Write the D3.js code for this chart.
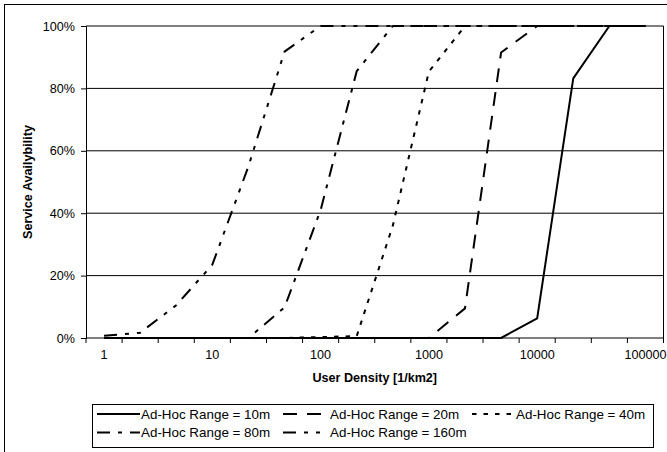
<!DOCTYPE html>
<html><head><meta charset="utf-8">
<script src="https://cdn.jsdelivr.net/npm/d3@7"></script>
<style>
body{margin:0;background:#fff;}
svg{display:block;font-family:"Liberation Sans",Arial,sans-serif;}
</style></head>
<body><svg id="chart" width="667" height="452"></svg>
<script>
// ---- data ----
const categories = [1,2,5,10,20,50,100,200,500,1000,2000,5000,10000,20000,50000,100000];
const tickLabels = ["1","10","100","1000","10000","100000"];
const seriesNames = ["Ad-Hoc Range = 10m","Ad-Hoc Range = 20m","Ad-Hoc Range = 40m","Ad-Hoc Range = 80m","Ad-Hoc Range = 160m"];
const range10m  = [0,0,0,0,0,0,0,0,0,0,0,0,6.3,83.2,100,100];
const range20m  = [0,0,0,0,0,0,0,0,0,0,9.5,91.5,100,100,100,100];
const range40m  = [0,0,0,0,0,0,0.3,0.6,36,85.4,100,100,100,100,100,100];
const range80m  = [0,0,0,0,0,9.8,41,85.5,100,100,100,100,100,100,100,100];
const range160m = [0.7,1.7,10.5,23.5,55,91.8,100,100,100,100,100,100,100,100,100,100];
const yTicks = [0,20,40,60,80,100];

const seriesValues = [range10m,range20m,range40m,range80m,range160m];
const dashes = [null,"14,10","4.5,7","13,8,4,8","13,8,4,8,4,8"];

const svg = d3.select("#chart");
const L=86, R=663.5, T=26, B=338;

// outer chart border
svg.append("rect").attr("x",4.5).attr("y",4.5).attr("width",700).attr("height",500)
  .attr("fill","none").attr("stroke","#000").attr("stroke-width",1);

const x = d3.scaleBand().domain(categories).range([L,R]).padding(0);
const xc = c => x(c) + x.bandwidth()/2;
const y = d3.scaleLinear().domain([0,100]).range([B,T]);

// gridlines
svg.append("g").selectAll("line").data(yTicks.filter(v=>v>0)).join("line")
  .attr("x1",L).attr("x2",R).attr("y1",d=>y(d)).attr("y2",d=>y(d))
  .attr("stroke","#000").attr("stroke-width",1);
// right border of plot
svg.append("line").attr("x1",R).attr("x2",R).attr("y1",T).attr("y2",B)
  .attr("stroke","#000").attr("stroke-width",1);

// y axis
const yAxis = d3.axisLeft(y).tickValues(yTicks).tickSize(5).tickPadding(6)
  .tickFormat(d=>d+"%");
const gy = svg.append("g").attr("transform",`translate(${L},0)`).call(yAxis);
gy.select(".domain").attr("stroke","#000");
gy.selectAll(".tick line").attr("stroke","#000");
gy.selectAll("text").attr("font-size","12.6px").attr("fill","#000")
  .attr("font-family","Liberation Sans, Arial, sans-serif");

// x axis: ticks at category boundaries
const bounds = categories.map(c=>x(c)).concat([R]);
svg.append("line").attr("x1",L).attr("x2",R).attr("y1",B).attr("y2",B).attr("stroke","#000");
svg.append("g").selectAll("line").data(bounds).join("line")
  .attr("x1",d=>d).attr("x2",d=>d).attr("y1",B).attr("y2",B+5).attr("stroke","#000");
svg.append("g").selectAll("text").data(tickLabels).join("text")
  .attr("x",d=>xc(+d)).attr("y",358.5).attr("text-anchor","middle")
  .attr("font-size","12.6px").attr("fill","#000").text(d=>d);

// axis titles
svg.append("text").attr("x",(L+R)/2).attr("y",382).attr("text-anchor","middle")
  .attr("font-size","12.6px").attr("font-weight","bold").text("User Density [1/km2]");
svg.append("text").attr("transform",`translate(32,${(T+B)/2}) rotate(-90)`)
  .attr("text-anchor","middle").attr("font-size","12.6px").attr("font-weight","bold")
  .text("Service Availybility");

// lines
const line = d3.line().x((d,i)=>xc(categories[i])).y(d=>y(d));
seriesValues.forEach((vals,i)=>{
  svg.append("path").datum(vals).attr("d",line).attr("fill","none")
    .attr("stroke","#000").attr("stroke-width",2)
    .attr("stroke-linejoin","round")
    .attr("stroke-dasharray",dashes[i]);
});

// legend
const lg = svg.append("g");
lg.append("rect").attr("x",92.5).attr("y",404.5).attr("width",561).attr("height",43)
  .attr("fill","#fff").attr("stroke","#000");
const pos = [[97,414],[283,414],[472,414],[97,432.5],[283,432.5]];
seriesNames.forEach((n,i)=>{
  const [lx,ly]=pos[i];
  lg.append("line").attr("x1",lx).attr("x2",lx+43).attr("y1",ly).attr("y2",ly)
    .attr("stroke","#000").attr("stroke-width",2).attr("stroke-dasharray",dashes[i]);
  lg.append("text").attr("x",lx+(i===1||i===4?47:44)).attr("y",ly+4.5)
    .attr("font-size","13.4px").attr("fill","#000").text(n);
});
</script></body></html>
